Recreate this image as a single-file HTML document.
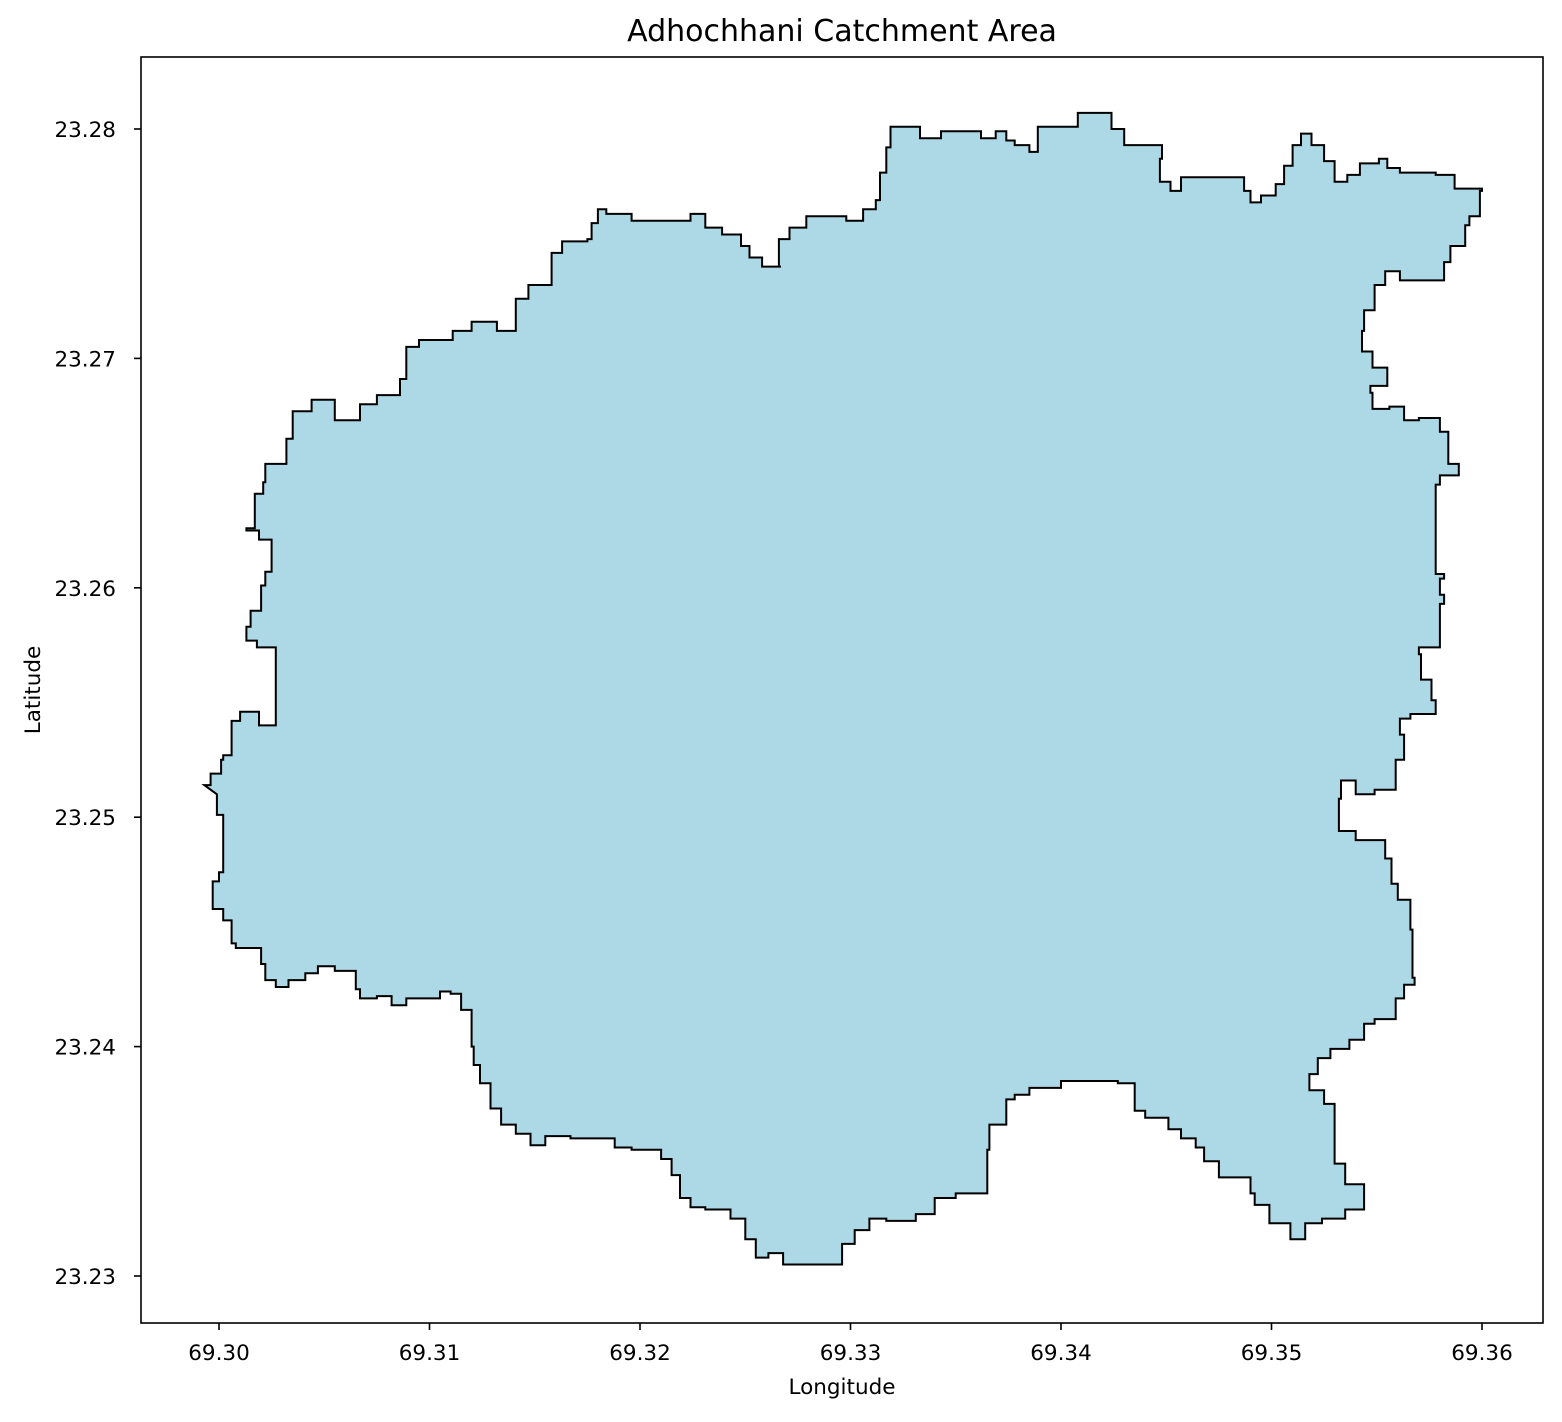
<!DOCTYPE html>
<html><head><meta charset="utf-8"><style>
body{margin:0;background:#fff;}
svg text{font-family:"DejaVu Sans","Liberation Sans",sans-serif;fill:#000;}
</style></head><body>
<svg width="1562" height="1417" viewBox="0 0 1562 1417" xmlns="http://www.w3.org/2000/svg">
<rect x="0" y="0" width="1562" height="1417" fill="#fff"/>
<g id="plot"></g>
<text x="842" y="41" font-size="30" text-anchor="middle">Adhochhani Catchment Area</text>
<text x="842" y="1394" font-size="21.5" text-anchor="middle">Longitude</text>
<text x="40" y="690" font-size="21.5" text-anchor="middle" transform="rotate(-90 40 690)">Latitude</text>
</svg>
<script>
const xTicks=[69.30,69.31,69.32,69.33,69.34,69.35,69.36];
const yTicks=[23.23,23.24,23.25,23.26,23.27,23.28];
const lons=[69.2993,69.2996,69.3001,69.3002,69.3006,69.3010,69.3019,69.3019,69.3025,69.3027,69.3027,69.3018,69.3013,69.3015,69.3020,69.3022,69.3025,69.3025,69.3019,69.3013,69.3017,69.3021,69.3022,69.3031,69.3032,69.3035,69.3035,69.3044,69.3055,69.3055,69.3063,69.3067,69.3075,69.3086,69.3089,69.3095,69.3111,69.3120,69.3132,69.3132,69.3141,69.3141,69.3147,69.3158,69.3158,69.3163,69.3175,69.3177,69.3180,69.3184,69.3196,69.3196,69.3222,69.3224,69.3231,69.3239,69.3248,69.3252,69.3258,69.3267,69.3266,69.3271,69.3279,69.3295,69.3298,69.3302,69.3306,69.3312,69.3314,69.3317,69.3319,69.3329,69.3333,69.3341,69.3343,69.3359,69.3362,69.3366,69.3369,69.3374,69.3378,69.3385,69.3389,69.3404,69.3408,69.3421,69.3424,69.3430,69.3447,69.3448,69.3447,69.3452,69.3457,69.3485,69.3487,69.3490,69.3495,69.3502,69.3506,69.3510,69.3514,69.3519,69.3525,69.3530,69.3536,69.3542,69.3551,69.3555,69.3561,69.3578,69.3587,69.3600,69.3599,69.3594,69.3592,69.3585,69.3582,69.3566,69.3561,69.3554,69.3549,69.3544,69.3543,69.3548,69.3555,69.3547,69.3548,69.3556,69.3563,69.3570,69.3580,69.3584,69.3589,69.3580,69.3578,69.3578,69.3582,69.3580,69.3582,69.3580,69.3570,69.3571,69.3576,69.3578,69.3566,69.3561,69.3563,69.3559,69.3549,69.3540,69.3533,69.3532,69.3540,69.3554,69.3557,69.3560,69.3566,69.3567,69.3568,69.3563,69.3559,69.3549,69.3544,69.3537,69.3528,69.3523,69.3522,69.3518,69.3525,69.3530,69.3530,69.3535,69.3544,69.3535,69.3524,69.3516,69.3509,69.3499,69.3492,69.3490,69.3479,69.3475,69.3468,69.3464,69.3457,69.3451,69.3440,69.3435,69.3427,69.3400,69.3385,69.3378,69.3374,69.3366,69.3365,69.3350,69.3340,69.3331,69.3317,69.3309,69.3302,69.3296,69.3275,69.3268,69.3261,69.3255,69.3250,69.3243,69.3231,69.3224,69.3219,69.3215,69.3210,69.3196,69.3188,69.3167,69.3155,69.3148,69.3141,69.3134,69.3129,69.3124,69.3121,69.3120,69.3115,69.3110,69.3105,69.3089,69.3082,69.3075,69.3067,69.3065,69.3055,69.3047,69.3041,69.3033,69.3027,69.3022,69.3020,69.3008,69.3006,69.3002,69.2997,69.2997,69.3000,69.3002,69.3002,69.2999];
const lats=[23.2514,23.2519,23.2525,23.2527,23.2542,23.2546,23.2546,23.2540,23.2540,23.2547,23.2574,23.2577,23.2583,23.2590,23.2601,23.2607,23.2607,23.2621,23.2625,23.2626,23.2641,23.2646,23.2654,23.2654,23.2665,23.2665,23.2677,23.2682,23.2682,23.2673,23.2673,23.2680,23.2684,23.2691,23.2705,23.2708,23.2712,23.2716,23.2716,23.2712,23.2712,23.2726,23.2732,23.2732,23.2746,23.2751,23.2752,23.2759,23.2765,23.2763,23.2763,23.2760,23.2760,23.2763,23.2757,23.2754,23.2749,23.2744,23.2740,23.2740,23.2752,23.2757,23.2762,23.2762,23.2760,23.2760,23.2765,23.2769,23.2781,23.2792,23.2801,23.2801,23.2796,23.2796,23.2799,23.2799,23.2796,23.2796,23.2799,23.2795,23.2793,23.2790,23.2801,23.2801,23.2807,23.2807,23.2800,23.2793,23.2793,23.2787,23.2777,23.2773,23.2779,23.2779,23.2773,23.2768,23.2771,23.2776,23.2784,23.2793,23.2798,23.2793,23.2786,23.2777,23.2780,23.2785,23.2787,23.2783,23.2781,23.2780,23.2774,23.2773,23.2762,23.2758,23.2749,23.2742,23.2734,23.2734,23.2738,23.2732,23.2721,23.2712,23.2703,23.2696,23.2688,23.2685,23.2678,23.2679,23.2673,23.2674,23.2668,23.2654,23.2649,23.2645,23.2641,23.2606,23.2604,23.2597,23.2593,23.2574,23.2571,23.2560,23.2551,23.2545,23.2543,23.2536,23.2525,23.2512,23.2510,23.2516,23.2508,23.2494,23.2490,23.2482,23.2471,23.2464,23.2451,23.2430,23.2427,23.2421,23.2412,23.2410,23.2403,23.2399,23.2395,23.2395,23.2388,23.2381,23.2375,23.2366,23.2349,23.2340,23.2329,23.2325,23.2323,23.2316,23.2323,23.2331,23.2336,23.2343,23.2343,23.2350,23.2356,23.2360,23.2364,23.2369,23.2372,23.2384,23.2385,23.2382,23.2379,23.2377,23.2366,23.2355,23.2336,23.2334,23.2327,23.2324,23.2325,23.2320,23.2314,23.2305,23.2305,23.2310,23.2308,23.2316,23.2325,23.2329,23.2330,23.2334,23.2344,23.2351,23.2355,23.2356,23.2360,23.2361,23.2357,23.2362,23.2366,23.2373,23.2384,23.2392,23.2400,23.2416,23.2423,23.2424,23.2421,23.2418,23.2422,23.2421,23.2425,23.2433,23.2435,23.2432,23.2429,23.2426,23.2429,23.2436,23.2443,23.2445,23.2455,23.2460,23.2462,23.2472,23.2476,23.2477,23.2501,23.2510];
const X0=141,X1=1543,Y0=57,Y1=1323;
function sx(v){return 219+(v-69.30)*21050;}
function sy(v){return 1276-(v-23.23)*22940;}
const NS='http://www.w3.org/2000/svg';
const g=document.getElementById('plot');
function mk(t,a){const e=document.createElementNS(NS,t);for(const k in a)e.setAttribute(k,a[k]);g.appendChild(e);return e;}
let d='';
for(let i=0;i<lons.length;i++){
  const x=sx(lons[i]).toFixed(1),y=sy(lats[i]).toFixed(1);
  if(i===0)d+='M'+x+' '+y;
  else d+='H'+x+'V'+y;
}
d+='Z';
const poly=mk('path',{d:d,fill:'#add8e6',stroke:'#000','stroke-width':2,'stroke-linejoin':'miter'});


const frame=mk('rect',{x:X0,y:Y0,width:X1-X0,height:Y1-Y0,fill:'none',stroke:'#000','stroke-width':1.6});


xTicks.forEach(v=>{
  const x=sx(v);
  const t=mk('line',{x1:x,x2:x,y1:Y1,y2:Y1+7,stroke:'#000','stroke-width':1.6});
  
  
  const l=mk('text',{x:x,y:Y1+37,'font-size':21.5,'text-anchor':'middle'});
  l.textContent=v.toFixed(2);
  
  
});
yTicks.forEach(v=>{
  const y=sy(v);
  const t=mk('line',{x1:X0-7,x2:X0,y1:y,y2:y,stroke:'#000','stroke-width':1.6});
  
  
  const l=mk('text',{x:X0-25,y:y+8,'font-size':21.5,'text-anchor':'end'});
  l.textContent=v.toFixed(2);
  
  
});
</script>
</body></html>
